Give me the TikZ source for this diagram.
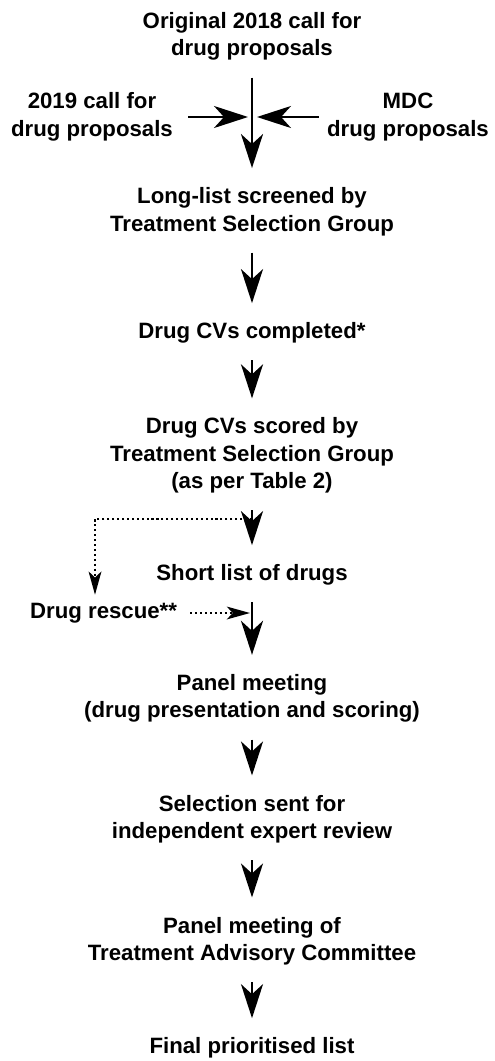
\documentclass[tikz,border=0pt]{standalone}
\usepackage{fontspec}
\setmainfont{Liberation Sans}
\usetikzlibrary{arrows.meta}

\begin{document}
\begin{tikzpicture}[
    stage/.style={align=center, inner sep=0pt, font=\bfseries\fontsize{15.8}{19.5}\selectfont},
    flow/.style={line width=1.8pt, -{Stealth[length=0.85cm, width=0.55cm, inset=0.25cm]}, shorten <=0.42cm, shorten >=0.48cm},
    side/.style={line width=1.8pt, -{Stealth[length=0.85cm, width=0.55cm, inset=0.25cm]}},
    rescueline/.style={line width=1.5pt, dotted, -{Stealth[length=0.58cm, width=0.32cm, inset=0.15cm]}}
  ]

        \useasboundingbox (0, 0) rectangle (12.35, -26.525);

        \node[stage] (orig) at (6.3, -0.91) {Original 2018 call for\\drug proposals};
        \node[stage] (call19) at (2.3, -2.925) {2019 call for\\drug proposals};
        \node[stage] (mdc) at (10.2, -2.925) {MDC\\drug proposals};
        \node[stage] (longlist) at (6.3, -5.29) {Long-list screened by\\Treatment Selection Group};
        \node[stage] (cvs) at (6.3, -8.325) {Drug CVs completed*};
        \node[stage] (scored) at (6.3, -11.39) {Drug CVs scored by\\Treatment Selection Group\\(as per Table 2)};
        \node[stage] (short) at (6.3, -14.375) {Short list of drugs};
        \node[stage] (rescue) at (2.59, -15.325) {Drug rescue**};
        \node[stage] (panel) at (6.3, -17.46) {Panel meeting\\(drug presentation and scoring)};
        \node[stage] (review) at (6.3, -20.475) {Selection sent for\\independent expert review};
        \node[stage] (tac) at (6.3, -23.525) {Panel meeting of\\Treatment Advisory Committee};
        \node[stage] (final) at (6.3, -26.2) {Final prioritised list};

        \coordinate (split) at (6.3, -12.975);

        \draw[flow] (orig) -- (longlist);
        \draw[side, shorten <=0.375cm, shorten >=0.1cm] (call19) -- (call19 -| orig);
        \draw[side, shorten <=0.2cm, shorten >=0.125cm] (mdc) -- (mdc -| orig);
        \draw[flow] (longlist) -- (cvs);
        \draw[flow] (cvs) -- (scored);
        \draw[flow] (scored) -- (short);
        \draw[flow] (short) -- (panel);
        \draw[flow] (panel) -- (review);
        \draw[flow] (review) -- (tac);
        \draw[flow] (tac) -- (final);

        \draw[rescueline, shorten >=0.2cm] (split) -| ([xshift=-0.215cm]rescue.north);
        \draw[rescueline, shorten <=0.325cm, shorten >=0.05cm] (rescue) -- (rescue -| short);

      \end{tikzpicture}
\end{document}
